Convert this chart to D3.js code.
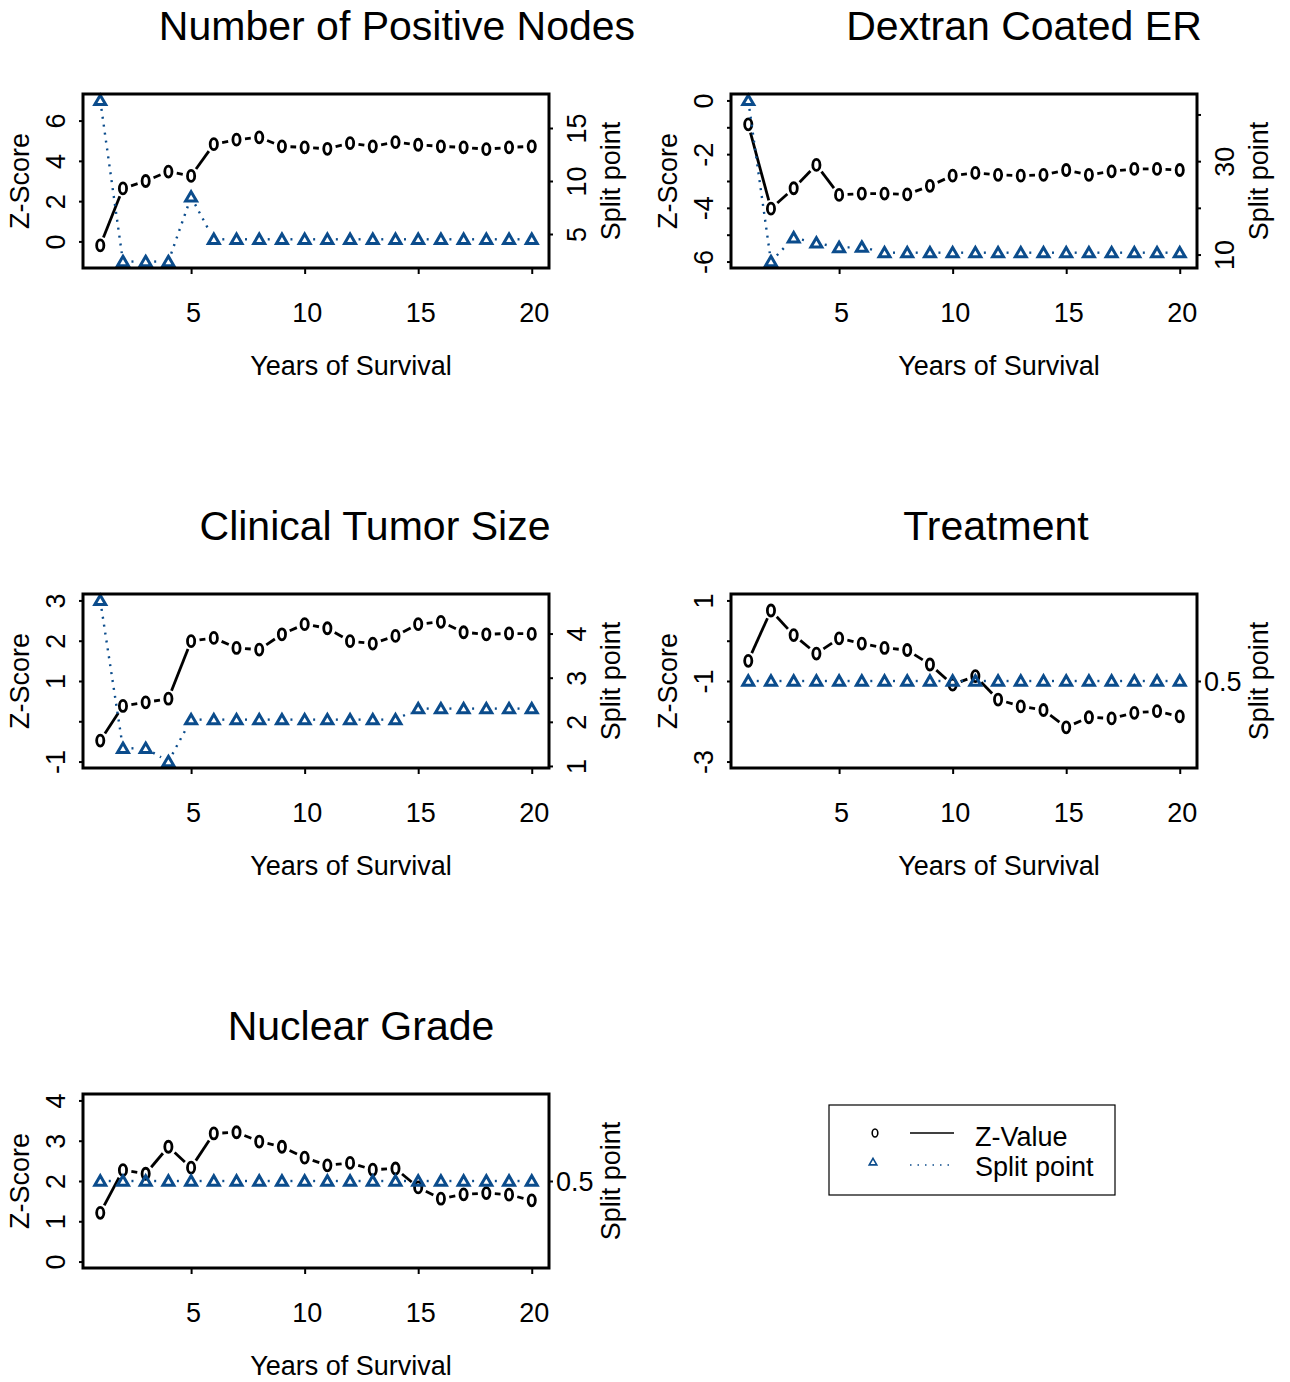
<!DOCTYPE html>
<html>
<head>
<meta charset="utf-8">
<script src="https://cdn.jsdelivr.net/npm/d3@7"></script>
<style>
  body { margin: 0; background: #fff; }
  text { font-family: "Liberation Sans", Arial, Helvetica, sans-serif; fill: #000; }
</style>
</head>
<body>
<div id="container"></div>
<script>
// years on the x axis
const years = [1, 2, 3, 4, 5, 6, 7, 8, 9, 10, 11, 12, 13, 14, 15, 16, 17, 18, 19, 20];
const xTicks = [5, 10, 15, 20];

const titles = ["Number of Positive Nodes", "Dextran Coated ER", "Clinical Tumor Size", "Treatment", "Nuclear Grade"];

// z-values per variable
const zNodes = [-0.2, 2.63, 3.0, 3.47, 3.25, 4.83, 5.05, 5.17, 4.72, 4.67, 4.6, 4.88, 4.72, 4.93, 4.8, 4.72, 4.67, 4.58, 4.67, 4.72];
const zER = [-0.89, -4.03, -3.27, -2.4, -3.52, -3.47, -3.47, -3.5, -3.18, -2.8, -2.7, -2.77, -2.8, -2.77, -2.59, -2.77, -2.64, -2.55, -2.55, -2.59];
const zSize = [-0.48, 0.38, 0.47, 0.56, 1.99, 2.07, 1.82, 1.78, 2.16, 2.41, 2.31, 1.99, 1.93, 2.12, 2.41, 2.47, 2.21, 2.16, 2.18, 2.17];
const zTreat = [-0.5, 0.75, 0.14, -0.32, 0.06, -0.07, -0.18, -0.23, -0.59, -1.09, -0.88, -1.46, -1.63, -1.72, -2.15, -1.9, -1.93, -1.79, -1.75, -1.88];
const zGrade = [1.21, 2.27, 2.18, 2.85, 2.33, 3.18, 3.21, 2.98, 2.85, 2.58, 2.39, 2.45, 2.28, 2.31, 1.84, 1.56, 1.67, 1.7, 1.66, 1.52];

// split points per variable
const spNodes = [17.6, 2.4, 2.4, 2.4, 8.5, 4.5, 4.5, 4.5, 4.5, 4.5, 4.5, 4.5, 4.5, 4.5, 4.5, 4.5, 4.5, 4.5, 4.5, 4.5];
const spER = [43, 8.5, 13.6, 12.5, 11.5, 11.6, 10.4, 10.4, 10.4, 10.4, 10.4, 10.4, 10.4, 10.4, 10.4, 10.4, 10.4, 10.4, 10.4, 10.4];
const spSize = [4.75, 1.4, 1.4, 1.1, 2.05, 2.05, 2.05, 2.05, 2.05, 2.05, 2.05, 2.05, 2.05, 2.05, 2.3, 2.3, 2.3, 2.3, 2.3, 2.3];
const spTreat = [0.5, 0.5, 0.5, 0.5, 0.5, 0.5, 0.5, 0.5, 0.5, 0.5, 0.5, 0.5, 0.5, 0.5, 0.5, 0.5, 0.5, 0.5, 0.5, 0.5];
const spGrade = [0.5, 0.5, 0.5, 0.5, 0.5, 0.5, 0.5, 0.5, 0.5, 0.5, 0.5, 0.5, 0.5, 0.5, 0.5, 0.5, 0.5, 0.5, 0.5, 0.5];

// axis limits and ticks
const zLimits = [[-1, 7], [-6, 0], [-1, 3], [-3, 1], [0, 4]];
const zTicks = [[0, 2, 4, 6], [-6, -5, -4, -3, -2, -1, 0], [-1, 0, 1, 2, 3], [-3, -2, -1, 0, 1], [0, 1, 2, 3, 4]];
const zTickLabels = [[0, 2, 4, 6], [-6, -4, -2, 0], [-1, 1, 2, 3], [-3, -1, 1], [0, 1, 2, 3, 4]];
const spTicks = [[5, 10, 15], [10, 20, 30, 40], [1, 2, 3, 4], [0.5], [0.5]];
const spTickLabels = [[5, 10, 15], [10, 30], [1, 2, 3, 4], [0.5], [0.5]];

const zSeries = [zNodes, zER, zSize, zTreat, zGrade];
const spSeries = [spNodes, spER, spSize, spTreat, spGrade];

const legendLabels = ["Z-Value", "Split point"];

const blue = "#0B4C8C";
const pw = 466, ph = 174;
const boxes = [[83, 94], [731, 94], [83, 594], [731, 594], [83, 1094]];
const titleX = [397, 1024, 375, 996, 361];
const horizRight = [false, false, false, true, true];

let svg = d3.select("#container")
    .append("svg")
    .attr("width", 1290)
    .attr("height", 1382);

function pad(lim) {
    let r = lim[1] - lim[0];
    if (r === 0) return [lim[0] * 0.6, lim[0] * 1.4];
    return [lim[0] - r * 0.04, lim[1] + r * 0.04];
}

// type="b" style: segments with gaps around the points
function gapSegments(g, pts, gap, attrs) {
    for (let i = 0; i < pts.length - 1; i++) {
        let [x0, y0] = pts[i], [x1, y1] = pts[i + 1];
        let dx = x1 - x0, dy = y1 - y0, L = Math.sqrt(dx * dx + dy * dy);
        if (L <= 2 * gap) continue;
        let ux = dx / L, uy = dy / L;
        let ln = g.append("line")
            .attr("x1", x0 + ux * gap).attr("y1", y0 + uy * gap)
            .attr("x2", x1 - ux * gap).attr("y2", y1 - uy * gap);
        for (let k in attrs) ln.attr(k, attrs[k]);
    }
}

function triPath(s) {
    return "M0," + (-s) + "L" + (s * 1.05) + "," + (s * 0.8) + "L" + (-s * 1.05) + "," + (s * 0.8) + "Z";
}

function drawPanel(i) {
    let [left, top] = boxes[i];
    let x = d3.scaleLinear().domain(pad(d3.extent(years))).range([left, left + pw]);
    let y = d3.scaleLinear().domain(pad(zLimits[i])).range([top + ph, top]);
    let y2 = d3.scaleLinear().domain(pad(d3.extent(spSeries[i]))).range([top + ph, top]);
    let g = svg.append("g");

    // title
    g.append("text")
        .attr("x", titleX[i]).attr("y", top - 54)
        .attr("text-anchor", "middle")
        .style("font-size", "41px")
        .text(titles[i]);

    // bottom axis
    let xa = g.append("g").attr("transform", "translate(0," + (top + ph) + ")")
        .call(d3.axisBottom(x).tickValues(xTicks).tickSize(6).tickSizeOuter(0));
    xa.select(".domain").remove();
    xa.selectAll("line").attr("stroke", "#000").attr("stroke-width", 2);
    xa.selectAll("text").style("font-size", "27px").attr("dy", null).attr("y", 54).attr("dx", 2);

    g.append("text")
        .attr("x", left + pw / 2 + 35).attr("y", top + ph + 107)
        .attr("text-anchor", "middle")
        .style("font-size", "27px")
        .text("Years of Survival");

    // left axis
    let ya = g.append("g").attr("transform", "translate(" + left + ",0)")
        .call(d3.axisLeft(y).tickValues(zTicks[i]).tickSize(4).tickSizeOuter(0)
            .tickFormat(d => zTickLabels[i].includes(d) ? d : ""));
    ya.select(".domain").remove();
    ya.selectAll("line").attr("stroke", "#000").attr("stroke-width", 2);
    ya.selectAll("text")
        .style("font-size", "27px")
        .attr("x", null).attr("dy", null)
        .attr("text-anchor", "middle")
        .attr("transform", "translate(-18,0) rotate(-90)");

    g.append("text")
        .attr("transform", "translate(" + (left - 54) + "," + (top + ph / 2) + ") rotate(-90)")
        .attr("text-anchor", "middle")
        .style("font-size", "27px")
        .text("Z-Score");

    // right axis
    let ra = g.append("g").attr("transform", "translate(" + (left + pw) + ",0)")
        .call(d3.axisRight(y2).tickValues(spTicks[i]).tickSize(4).tickSizeOuter(0)
            .tickFormat(d => spTickLabels[i].includes(d) ? d : ""));
    ra.select(".domain").remove();
    ra.selectAll("line").attr("stroke", "#000").attr("stroke-width", 2);
    if (horizRight[i]) {
        ra.selectAll("text")
            .style("font-size", "27px")
            .attr("x", 7).attr("dy", "0.35em")
            .attr("text-anchor", "start");
    } else {
        ra.selectAll("text")
            .style("font-size", "27px")
            .attr("x", null).attr("dy", null)
            .attr("text-anchor", "middle")
            .attr("transform", "translate(37,0) rotate(-90)");
    }

    g.append("text")
        .attr("transform", "translate(" + (left + pw + 71) + "," + (top + ph / 2) + ") rotate(-90)")
        .attr("text-anchor", "middle")
        .style("font-size", "27px")
        .text("Split point");

    // z-value series
    let zp = years.map((d, j) => [x(d), y(zSeries[i][j])]);
    gapSegments(g, zp, 8.5, { stroke: "#000", "stroke-width": 2.8 });
    g.selectAll(".zpt").data(zp).enter().append("ellipse")
        .attr("cx", d => d[0]).attr("cy", d => d[1])
        .attr("rx", 3.6).attr("ry", 5.5)
        .attr("fill", "none").attr("stroke", "#000").attr("stroke-width", 2.8);

    // split point series
    let sp = years.map((d, j) => [x(d), y2(spSeries[i][j])]);
    gapSegments(g, sp, 8.5, { stroke: blue, "stroke-width": 2.4, "stroke-dasharray": "2,6" });
    g.selectAll(".spt").data(sp).enter().append("path")
        .attr("transform", d => "translate(" + d[0] + "," + d[1] + ")")
        .attr("d", triPath(5.2))
        .attr("fill", "none").attr("stroke", blue).attr("stroke-width", 3)
        .attr("stroke-linejoin", "miter");

    // box
    g.append("rect")
        .attr("x", left).attr("y", top).attr("width", pw).attr("height", ph)
        .attr("fill", "none").attr("stroke", "#000").attr("stroke-width", 3);
}

for (let i = 0; i < titles.length; i++) drawPanel(i);

// legend
let lg = svg.append("g");
lg.append("rect")
    .attr("x", 829).attr("y", 1105).attr("width", 286).attr("height", 90)
    .attr("fill", "none").attr("stroke", "#000").attr("stroke-width", 1.2);
let rowY = [1135, 1165];
legendLabels.forEach((lab, k) => {
    if (k === 0) {
        lg.append("ellipse").attr("cx", 875).attr("cy", rowY[k] - 2)
            .attr("rx", 2.8).attr("ry", 4)
            .attr("fill", "none").attr("stroke", "#000").attr("stroke-width", 1.6);
        lg.append("line").attr("x1", 910).attr("x2", 954).attr("y1", rowY[k] - 2).attr("y2", rowY[k] - 2)
            .attr("stroke", "#000").attr("stroke-width", 1.5);
    } else {
        lg.append("path").attr("transform", "translate(873," + (rowY[k] - 3) + ")")
            .attr("d", triPath(3.6))
            .attr("fill", "none").attr("stroke", blue).attr("stroke-width", 1.6);
        lg.append("line").attr("x1", 910).attr("x2", 954).attr("y1", rowY[k]).attr("y2", rowY[k])
            .attr("stroke", blue).attr("stroke-width", 1.5).attr("stroke-dasharray", "1.5,6");
    }
    lg.append("text")
        .attr("x", 975).attr("y", rowY[k] + 2)
        .attr("dy", "0.35em")
        .style("font-size", "27px")
        .text(lab);
});
</script>
</body>
</html>
